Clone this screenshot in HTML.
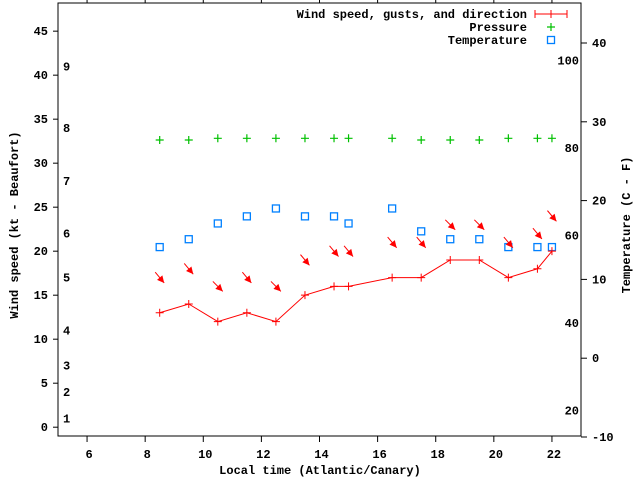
<!DOCTYPE html>
<html><head><meta charset="utf-8"><style>
body{margin:0;background:#fff}
svg{display:block;font-family:"Liberation Mono","DejaVu Sans Mono",monospace;font-size:12px;font-weight:bold}
</style></head><body>
<svg id="c" width="640" height="480"></svg>
<script>
const times=[8.5,9.5,10.5,11.5,12.5,13.5,14.5,15,16.5,17.5,18.5,19.5,20.5,21.5,22];
const windKt=[13,14,12,13,12,15,16,16,17,17,19,19,17,18,20];
const gustKt=[17,18,16,17,16,19,20,20,21,21,23,23,21,22,24];
const windDir=[320,320,315,320,315,320,320,320,320,320,315,315,320,320,320];
const tempC=[14.1,15.1,17.1,18.0,19.0,18.0,18.0,17.1,19.0,16.1,15.1,15.1,14.1,14.1,14.1];
const pressure=[1016,1016,1017,1017,1017,1017,1017,1017,1017,1016,1016,1016,1017,1017,1017];
const xTicks=[6,8,10,12,14,16,18,20,22];
const ktTicks=[0,5,10,15,20,25,30,35,40,45];
const cTicks=[-10,0,10,20,30,40];
const fTicks=[20,40,60,80,100];
const beaufort=[[1,1],[2,4],[3,7],[4,11],[5,17],[6,22],[7,28],[8,34],[9,41]];

const L=58,R=581,T=3,B=436;
const X=h=>L+(h-5)*(R-L)/18;
const YK=k=>B-(k+1)*(B-T)/49.2;
const YC=c=>437-(c+10)*7.88;
const YP=p=>140-(p-1016)*1.7;
const svg=document.getElementById('c');const NS='http://www.w3.org/2000/svg';
function el(t,a,txt){const e=document.createElementNS(NS,t);for(const k in a)e.setAttribute(k,a[k]);if(txt!=null)e.textContent=txt;svg.appendChild(e);return e;}
let e;
e=el('rect',{x:L,y:T,width:R-L,height:B-T,fill:'none',stroke:'#000'});


xTicks.forEach(h=>{
 e=el('line',{x1:X(h),x2:X(h),y1:B,y2:B+6,stroke:'#000'});
 
 
 e=el('line',{x1:X(h),x2:X(h),y1:T,y2:T-6,stroke:'#000'});
 
 
 e=el('text',{x:X(h)+2,y:B+22,'text-anchor':'middle'},h);
 
 
});
ktTicks.forEach(k=>{
 e=el('line',{x1:L-5,x2:L,y1:YK(k),y2:YK(k),stroke:'#000'});
 
 
 e=el('text',{x:L-10,y:YK(k)+4,'text-anchor':'end'},k);
 
 
});
beaufort.forEach(b=>{
 e=el('text',{x:63,y:YK(b[1])+4},b[0]);
 
 
});
cTicks.forEach(c=>{
 e=el('line',{x1:R,x2:R+6,y1:YC(c),y2:YC(c),stroke:'#000'});
 
 
 e=el('text',{x:R+11,y:YC(c)+4},c);
 
 
});
fTicks.forEach(f=>{
 e=el('text',{x:R-2,y:YC((f-32)*5/9)+4,'text-anchor':'end'},f);
 
 
});
e=el('text',{x:320,y:474,'text-anchor':'middle'},'Local time (Atlantic/Canary)');


e=el('text',{x:18,y:225,'text-anchor':'middle',transform:'rotate(-90 18 225)'},'Wind speed (kt - Beaufort)');


e=el('text',{x:630,y:225,'text-anchor':'middle',transform:'rotate(-90 630 225)'},'Temperature (C - F)');


// pressure
times.forEach((t,i)=>{
 const x=X(t),y=YP(pressure[i]);
 e=el('path',{d:`M${x-4},${y}h8M${x},${y-4}v8`,stroke:'#00c000','stroke-width':1.2});
 
 
});
// temperature
times.forEach((t,i)=>{
 e=el('rect',{x:X(t)-3.5,y:YC(tempC[i])-3.5,width:7,height:7,fill:'none',stroke:'#0080ff','stroke-width':1.3});
 
 
});
// wind line
e=el('polyline',{points:times.map((t,i)=>X(t)+','+YK(windKt[i])).join(' '),fill:'none',stroke:'#f00'});


times.forEach((t,i)=>{
 const x=X(t),y=YK(windKt[i]);
 e=el('path',{d:`M${x-4},${y}h8M${x},${y-4}v8`,stroke:'#f00'});
 
 
});
// direction arrows at gust level
times.forEach((t,i)=>{
 const cx=X(t),cy=YK(gustKt[i]);
 const a=(windDir[i]+180)*Math.PI/180; // direction toward
 const dx=Math.sin(a),dy=-Math.cos(a);
 const x1=cx-dx*7,y1=cy-dy*7,x2=cx+dx*7,y2=cy+dy*7;
 const px=-dy,py=dx;
 e=el('line',{x1:x1,y1:y1,x2:x2,y2:y2,stroke:'#f00'});
 
 
 e=el('polygon',{points:`${x2},${y2} ${x2-dx*7+px*3.5},${y2-dy*7+py*3.5} ${x2-dx*7-px*3.5},${y2-dy*7-py*3.5}`,fill:'#f00'});
 
 
});
// legend
const leg=[['Wind speed, gusts, and direction',14],['Pressure',27],['Temperature',40]];
leg.forEach(l=>{
 e=el('text',{x:527,y:l[1]+4,'text-anchor':'end'},l[0]);
 
 
});
e=el('path',{d:'M535,14h32M535,10v8M551,10v8M567,10v8',stroke:'#f00'});


e=el('path',{d:'M547,27h8M551,23v8',stroke:'#00c000','stroke-width':1.2});


e=el('rect',{x:547.5,y:36.5,width:7,height:7,fill:'none',stroke:'#0080ff','stroke-width':1.3});


</script>
</body></html>
